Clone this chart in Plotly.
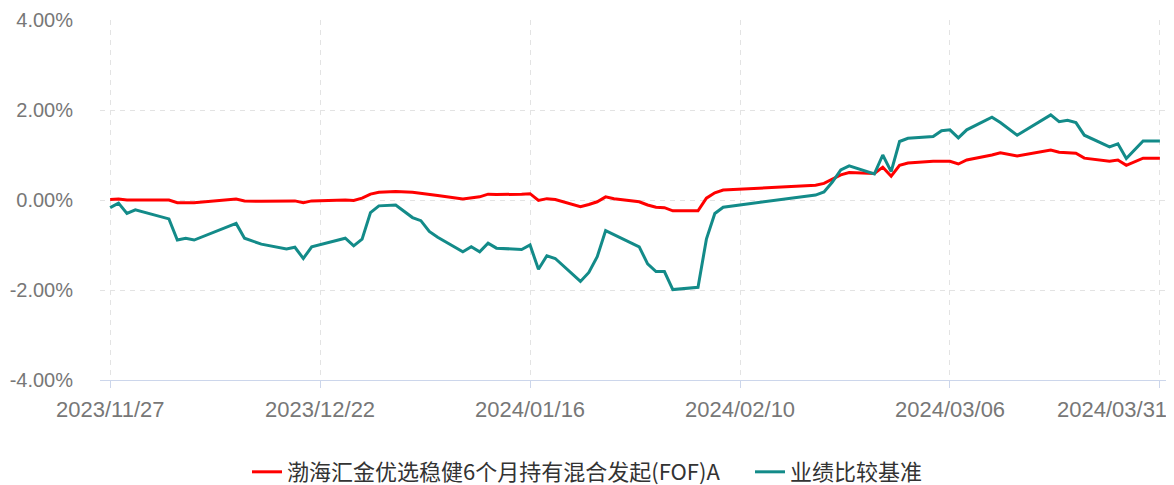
import plotly.graph_objects as go

# ---------------- data ----------------
dates = [
    "2023-11-27", "2023-11-28", "2023-11-29", "2023-11-30", "2023-12-04", "2023-12-05",
    "2023-12-06", "2023-12-07", "2023-12-12", "2023-12-13", "2023-12-15", "2023-12-18",
    "2023-12-19", "2023-12-20", "2023-12-21", "2023-12-25", "2023-12-26", "2023-12-27",
    "2023-12-28", "2023-12-29", "2023-12-31", "2024-01-02", "2024-01-03", "2024-01-04",
    "2024-01-05", "2024-01-08", "2024-01-09", "2024-01-10", "2024-01-11", "2024-01-12",
    "2024-01-15", "2024-01-16", "2024-01-17", "2024-01-18", "2024-01-19", "2024-01-22",
    "2024-01-23", "2024-01-24", "2024-01-25", "2024-01-26", "2024-01-29", "2024-01-30",
    "2024-01-31", "2024-02-01", "2024-02-02", "2024-02-05", "2024-02-06", "2024-02-07",
    "2024-02-08", "2024-02-19", "2024-02-20", "2024-02-21", "2024-02-22", "2024-02-23",
    "2024-02-26", "2024-02-27", "2024-02-28", "2024-02-29", "2024-03-01", "2024-03-04",
    "2024-03-05", "2024-03-06", "2024-03-07", "2024-03-08", "2024-03-11", "2024-03-12",
    "2024-03-14", "2024-03-18", "2024-03-19", "2024-03-20", "2024-03-21", "2024-03-22",
    "2024-03-25", "2024-03-26", "2024-03-27", "2024-03-29", "2024-03-31",
]

fund = [
    0.01, 0.02, 0.00, 0.00, 0.00, -0.06,
    -0.06, -0.06, 0.02, -0.02, -0.03, -0.03,
    -0.02, -0.06, -0.02, 0.00, -0.01, 0.04,
    0.13, 0.17, 0.19, 0.17, 0.15, 0.13,
    0.10, 0.02, 0.04, 0.07, 0.13, 0.12,
    0.13, 0.14, -0.01, 0.03, 0.01, -0.15,
    -0.10, -0.04, 0.07, 0.03, -0.04, -0.11,
    -0.16, -0.17, -0.24, -0.24, 0.04, 0.16,
    0.22, 0.33, 0.37, 0.47, 0.56, 0.61,
    0.59, 0.73, 0.53, 0.77, 0.82, 0.86,
    0.86, 0.86, 0.80, 0.89, 1.00, 1.05,
    0.98, 1.11, 1.06, 1.05, 1.04, 0.93,
    0.86, 0.89, 0.77, 0.93, 0.93,
]

benchmark = [
    -0.17, -0.07, -0.30, -0.22, -0.42, -0.89,
    -0.85, -0.89, -0.52, -0.85, -0.98, -1.09,
    -1.05, -1.30, -1.04, -0.85, -1.02, -0.87,
    -0.28, -0.13, -0.11, -0.39, -0.46, -0.70,
    -0.83, -1.15, -1.04, -1.15, -0.96, -1.07,
    -1.10, -1.00, -1.54, -1.24, -1.30, -1.81,
    -1.61, -1.26, -0.68, -0.77, -1.04, -1.42,
    -1.59, -1.59, -1.99, -1.94, -0.87, -0.30,
    -0.16, 0.11, 0.18, 0.40, 0.67, 0.76,
    0.58, 1.00, 0.63, 1.30, 1.37, 1.41,
    1.54, 1.56, 1.38, 1.56, 1.84, 1.72,
    1.44, 1.89, 1.74, 1.77, 1.72, 1.44,
    1.18, 1.25, 0.92, 1.31, 1.31,
]

series_names = ["渤海汇金优选稳健6个月持有混合发起(FOF)A", "业绩比较基准"]

x_ticks = ["2023-11-27", "2023-12-22", "2024-01-16", "2024-02-10", "2024-03-06", "2024-03-31"]
x_tick_labels = ["2023/11/27", "2023/12/22", "2024/01/16", "2024/02/10", "2024/03/06", "2024/03/31"]
y_ticks = [-4, -2, 0, 2, 4]
y_tick_labels = ["-4.00%", "-2.00%", "0.00%", "2.00%", "4.00%"]

# ---------------- figure ----------------
RED = "#ff0000"
TEAL = "#138b89"
TICK_COLOR = "#777777"
AXIS_COLOR = "#ccd6eb"
GRID_COLOR = "#e3e3e3"

fig = go.Figure()
fig.add_trace(go.Scatter(x=dates, y=fund, mode="lines", name=series_names[0],
                         line=dict(color=RED, width=3), legendwidth=458))
fig.add_trace(go.Scatter(x=dates, y=benchmark, mode="lines", name=series_names[1],
                         line=dict(color=TEAL, width=3)))

# x tick labels as annotations (last one is right aligned like the original)
for i, (tv, tl) in enumerate(zip(x_ticks, x_tick_labels)):
    last = i == len(x_ticks) - 1
    fig.add_annotation(x=tv, y=0, xref="x", yref="paper", yanchor="top",
                       xanchor="right" if last else "center",
                       xshift=9 if last else 0, yshift=-15,
                       text=tl, showarrow=False,
                       font=dict(family="Liberation Sans, Arial", size=22, color=TICK_COLOR))

# page body has an 8px margin, so the figure is sized/margined to compensate
fig.update_layout(
    width=1166, height=477,
    margin=dict(l=92, r=5, t=12, b=105, autoexpand=False),
    paper_bgcolor="white", plot_bgcolor="white",
    showlegend=True,
    legend=dict(orientation="h", x=0.1375, xanchor="left", y=-0.2556, yanchor="middle",
                font=dict(family="Noto Sans CJK SC", size=22, color="#333333"),
                itemwidth=30, tracegroupgap=0),
    xaxis=dict(
        type="date", automargin=False,
        range=["2023-11-25 19:00", "2024-04-01 02:00"],
        tickvals=x_ticks, showticklabels=False,
        ticks="outside", ticklen=7, tickcolor=AXIS_COLOR, tickwidth=1,
        showgrid=True, gridcolor=GRID_COLOR, griddash="5px,5px", gridwidth=1,
        showline=True, linecolor=AXIS_COLOR, linewidth=1,
        zeroline=False, fixedrange=True,
    ),
    yaxis=dict(
        range=[-4, 4], automargin=False,
        tickvals=y_ticks, ticktext=y_tick_labels,
        tickfont=dict(family="Liberation Sans, Arial", size=20, color=TICK_COLOR),
        ticks="", ticklabelstandoff=26,
        showgrid=True, gridcolor=GRID_COLOR, griddash="5px,5px", gridwidth=1,
        showline=False, zeroline=False, fixedrange=True,
    ),
)

fig.write_html("out.html")
